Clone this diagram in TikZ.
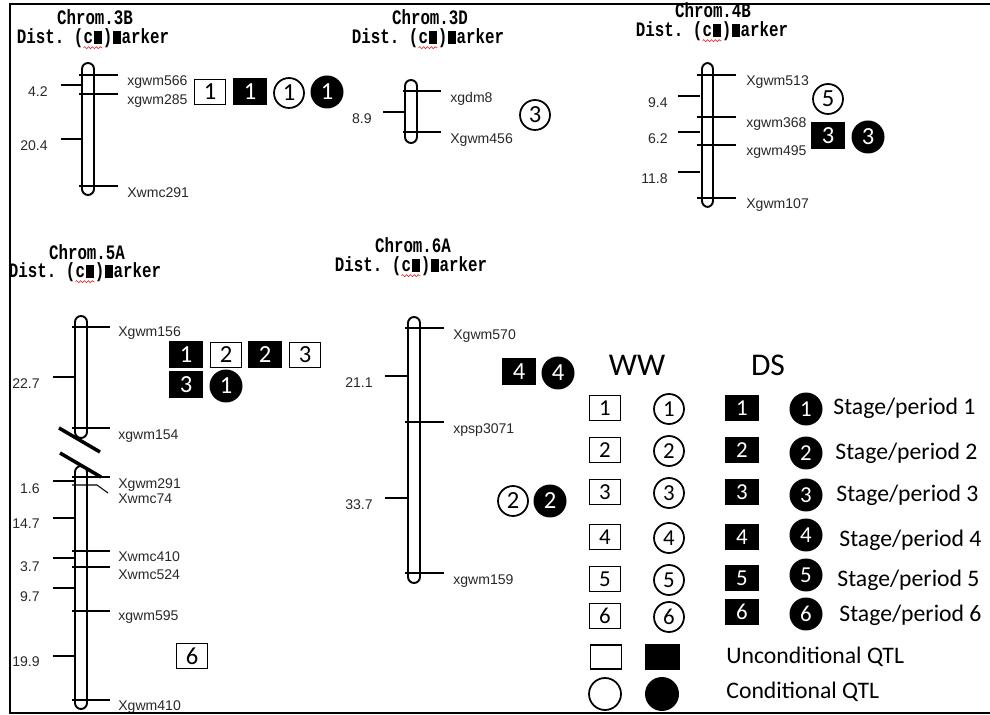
\documentclass[tikz,border=0pt]{standalone}
\usepackage{fontspec}
\usepackage{tikz}
\usetikzlibrary{positioning,decorations.pathmorphing}
\setmainfont{Carlito}
\newfontfamily\arialfont{Liberation Sans}
\newfontfamily\monofont{Liberation Mono}
\definecolor{labelgray}{RGB}{40,40,40}
\definecolor{spellred}{RGB}{225,40,40}
\newcommand{\nog}{\makebox[0.6em]{\rule{0.5em}{0.64em}}}
\newcommand{\tall}[1]{\scalebox{1}[1.3]{#1}}
\newcommand{\spellmark}[1]{\tikz[baseline=(sp.base)]{\node[inner sep=0pt,outer sep=0pt,font=\monofont\bfseries\fontsize{9}{10}\selectfont] (sp) {#1};
  \draw[spellred,line width=0.3pt,decorate,decoration={snake,amplitude=0.45pt,segment length=2.2pt}] ([yshift=-1.6pt]sp.south west) -- ([yshift=-1.6pt]sp.south east);}}
\newcommand{\distmarker}{Dist.\ (\spellmark{c\nog})\nog{}arker}

\begin{document}
\begin{tikzpicture}[x=0.02cm,y=-0.02cm]
  \tikzstyle{head}=[font=\monofont\bfseries\fontsize{9}{10}\selectfont, inner sep=0pt]
  \tikzstyle{bar}=[draw, line width=1.1pt, rounded corners=0.12cm]
  \tikzstyle{tickline}=[line width=0.6pt]
  \tikzstyle{breakline}=[line width=2pt]
  \tikzstyle{mlabel}=[font=\arialfont\fontsize{8}{9}\selectfont, text=labelgray, anchor=west, inner sep=0pt]
  \tikzstyle{dlabel}=[mlabel, anchor=east]
  \tikzstyle{qtl}=[inner sep=0pt, font=\fontsize{14}{14}\selectfont]
  \tikzstyle{small}=[font=\fontsize{13}{13}\selectfont]
  \tikzstyle{wwbox}=[qtl, draw, line width=1pt, minimum width=0.62cm, minimum height=0.5cm]
  \tikzstyle{dsbox}=[qtl, fill=black, text=white, minimum width=0.68cm, minimum height=0.54cm]
  \tikzstyle{wwcirc}=[qtl, draw, circle, line width=1pt, minimum size=0.6cm]
  \tikzstyle{dscirc}=[qtl, circle, fill=black, text=white, minimum size=0.66cm]
  \tikzstyle{legtext}=[anchor=west, inner sep=0pt, font=\fontsize{13.5}{14}\selectfont]
  \useasboundingbox (0,0) rectangle (990,715);

  % Chrom.3B
  \node[head] (head3B) at (95,17) {\tall{Chrom.3B}};
  \node[head] (dist3B) at (93,39) {\tall{\distmarker}};
  \draw[bar] (82,63) rectangle (94,195);
  \foreach \y/\m in {75/xgwm566,94/xgwm285,186/Xwmc291}{
    \draw[tickline] (79,\y) -- (118,\y);
    \node[mlabel] (m3B-\m) at (127,\y+7) {\m};}
  \foreach \y/\d in {85/4.2,139/20.4}{
    \draw[tickline] (61,\y) -- (82,\y);
    \node[dlabel] (d3B-\y) at (48,\y+7) {\d};}
  \node[wwbox] (q3B-a) at (210,92) {1};
  \node[dsbox] (q3B-b) at (250,92) {1};
  \node[wwcirc] (q3B-c) at (289,93) {1};
  \node[dscirc] (q3B-d) at (327,92) {1};

  % Chrom.3D
  \node[head] (head3D) at (430,17) {\tall{Chrom.3D}};
  \node[head] (dist3D) at (428,39) {\tall{\distmarker}};
  \draw[bar] (405,80) rectangle (417,143);
  \foreach \y/\m in {91/xgdm8,132/Xgwm456}{
    \draw[tickline] (403,\y) -- (441,\y);
    \node[mlabel] (m3D-\m) at (450,\y+8) {\m};}
  \draw[tickline] (383,112) -- (405,112);
  \node[dlabel] (d3D-112) at (372,119) {8.9};
  \node[wwcirc] (q3D-a) at (535,115) {3};

  % Chrom.4B
  \node[head] (head4B) at (713,10) {\tall{Chrom.4B}};
  \node[head] (dist4B) at (712,32) {\tall{\distmarker}};
  \draw[bar] (702,63) rectangle (713,207);
  \foreach \y/\m in {75/Xgwm513,117/xgwm368,145/xgwm495,198/Xgwm107}{
    \draw[tickline] (697,\y) -- (736,\y);
    \node[mlabel] (m4B-\m) at (746,\y+7) {\m};}
  \foreach \y/\d in {96/9.4,132/6.2,172/11.8}{
    \draw[tickline] (678,\y) -- (700,\y);
    \node[dlabel] (d4B-\y) at (668,\y+7) {\d};}
  \node[wwcirc] (q4B-a) at (828,99) {5};
  \node[dsbox] (q4B-b) at (828,136) {3};
  \node[dscirc] (q4B-c) at (868,137) {3};

  % Chrom.5A
  \node[head] (head5A) at (87,252) {\tall{Chrom.5A}};
  \node[head] (dist5A) at (85,273) {\tall{\distmarker}};
  \draw[bar] (75,316) rectangle (87,438);
  \draw[bar] (75,466) rectangle (87,709);
  \draw[breakline] (59,428) -- (100,452);
  \draw[breakline] (60,453) -- (101,477);
  \foreach \y/\m/\o in {327/Xgwm156/6,428/xgwm154/8,477/Xgwm291/8,551/Xwmc410/6,567/Xwmc524/8,611/xgwm595/6,700/Xgwm410/7}{
    \draw[tickline] (72,\y) -- (110,\y);
    \node[mlabel] (m5A-\m) at (118,\y+\o) {\m};}
  \draw[tickline] (72,485) -- (97,485) -- (108,493);
  \node[mlabel] (m5A-Xwmc74) at (118,499) {Xwmc74};
  \foreach \y/\d/\o in {377/22.7/7,481/1.6/8,518/14.7/6,558/3.7/9,588/9.7/9,656/19.9/6}{
    \draw[tickline] (53,\y) -- (75,\y);
    \node[dlabel] (d5A-\y) at (40,\y+\o) {\d};}
  \node[dsbox] (q5A-a) at (186,355) {1};
  \node[wwbox] (q5A-b) at (226,355) {2};
  \node[dsbox] (q5A-c) at (265,355) {2};
  \node[wwbox] (q5A-d) at (305,355) {3};
  \node[dsbox] (q5A-e) at (186,385) {3};
  \node[dscirc] (q5A-f) at (226,386) {1};
  \node[wwbox] (q5A-g) at (192,656) {6};

  % Chrom.6A
  \node[head] (head6A) at (413,245) {\tall{Chrom.6A}};
  \node[head] (dist6A) at (411,267) {\tall{\distmarker}};
  \draw[bar] (408,317) rectangle (420,583);
  \foreach \y/\m in {328/Xgwm570,422/xpsp3071,573/xgwm159}{
    \draw[tickline] (405,\y) -- (444,\y);
    \node[mlabel] (m6A-\m) at (453,\y+8) {\m};}
  \foreach \y/\d in {376/21.1,498/33.7}{
    \draw[tickline] (385,\y) -- (408,\y);
    \node[dlabel] (d6A-\y) at (373,\y+7) {\d};}
  \node[dsbox] (q6A-a) at (519,372) {4};
  \node[dscirc] (q6A-b) at (558,373) {4};
  \node[wwcirc] (q6A-c) at (513,501) {2};
  \node[dscirc] (q6A-d) at (550,501) {2};

  % legend
  \node[font=\fontsize{18}{18}\selectfont] (ww) at (637,365) {WW};
  \node[font=\fontsize{18}{18}\selectfont] (ds) at (768,365) {DS};
  \foreach \n/\ya/\yb/\yc/\yt/\xt in {1/408/408/409/408/833,2/450/450/453/453/835,3/492/492/495/495/836,4/537/537/535/540/839,5/579/578/575/580/837,6/616/612/614/615/839}{
    \node[wwbox, small] (lw\n) at (605,\ya) {\n};
    \node[wwcirc, small] (lwc\n) at (669,\ya+1) {\n};
    \node[dsbox, small] (ld\n) at (742,\yb) {\n};
    \node[dscirc, small] (ldc\n) at (806,\yc) {\n};
    \node[legtext] (ls\n) at (\xt,\yt) {Stage/period \n};}
  \node[draw, line width=1pt, minimum width=0.62cm, minimum height=0.48cm] (lwu) at (606,657) {};
  \node[fill=black, minimum width=0.7cm, minimum height=0.54cm] (ldu) at (662,657) {};
  \node[draw, circle, line width=1pt, minimum size=0.64cm] (lwcq) at (605,694) {};
  \node[circle, fill=black, minimum size=0.68cm] (ldcq) at (662,694) {};
  \node[legtext] (lunc) at (726,657) {Unconditional QTL};
  \node[legtext] (lcon) at (726,692) {Conditional QTL};

  % frame
  \draw[line width=1pt] (990,4) -- (10,4) -- (10,713) -- (990,713);
\end{tikzpicture}
\end{document}
